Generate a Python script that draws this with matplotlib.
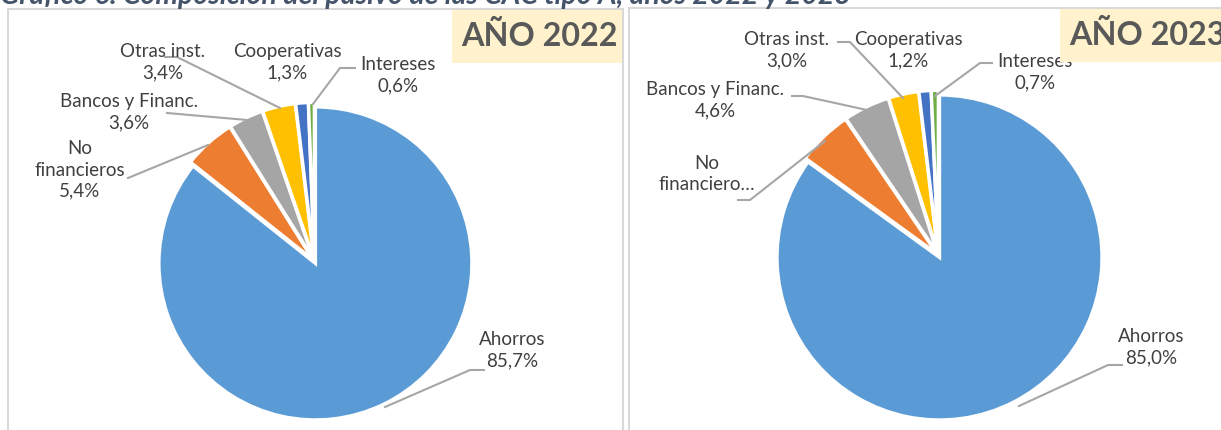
import matplotlib
matplotlib.use("Agg")
import matplotlib.pyplot as plt
from matplotlib.patches import Rectangle

plt.rcParams['font.family'] = ['Lato', 'DejaVu Sans']

# datos
categorias = ['Ahorros', 'No financieros', 'Bancos y Financ.', 'Otras inst.', 'Cooperativas', 'Intereses']
valores_2022 = [85.7, 5.4, 3.6, 3.4, 1.3, 0.6]
valores_2023 = [85.0, 5.5, 4.6, 3.0, 1.2, 0.7]
colores = ['#5B9BD5', '#ED7D31', '#A5A5A5', '#FFC000', '#4472C4', '#70AD47']
titulo = 'Gráfico 6. Composición del pasivo de las CAC tipo A, años 2022 y 2023'

W, H = 1221, 430
fig = plt.figure(figsize=(W / 100, H / 100), dpi=100)
ax = fig.add_axes([0, 0, 1, 1])


def Y(y):
    # pixeles desde arriba -> coordenadas del eje
    return H - y


def pct(v):
    return f'{v:.1f}'.replace('.', ',') + '%'


# marcos de los paneles
ax.add_patch(Rectangle((8, Y(440)), 615, 431, fill=False, ec='#D9D9D9', lw=1.5))
ax.add_patch(Rectangle((629, Y(440)), 600, 432, fill=False, ec='#D9D9D9', lw=1.5))

# tartas
paneles = [
    (valores_2022, (314.4, Y(261.3)), 156.5),
    (valores_2023, (938.4, Y(255.3)), 162.5),
]
for vals, centro, r in paneles:
    ax.pie(vals, colors=colores, startangle=90, counterclock=False,
           center=centro, radius=r, explode=[0.015 * r] * len(vals),
           wedgeprops=dict(edgecolor='white', linewidth=2.4), frame=True)

# etiquetas (centro x, centro y, texto)
etq_2022 = [
    (512, 350, f'{categorias[0]}\n{pct(valores_2022[0])}'),
    (80, 170, f'No\nfinancieros\n{pct(valores_2022[1])}'),
    (129, 112, f'{categorias[2]}\n{pct(valores_2022[2])}'),
    (163, 62, f'{categorias[3]}\n{pct(valores_2022[3])}'),
    (287, 62, f'{categorias[4]}\n{pct(valores_2022[4])}'),
    (398, 75, f'{categorias[5]}\n{pct(valores_2022[5])}'),
]
etq_2023 = [
    (1151, 347, f'{categorias[0]}\n{pct(valores_2023[0])}'),
    (707, 174, 'No\nfinanciero…'),
    (715, 100, f'{categorias[2]}\n{pct(valores_2023[2])}'),
    (787, 50, f'{categorias[3]}\n{pct(valores_2023[3])}'),
    (908, 50, f'{categorias[4]}\n{pct(valores_2023[4])}'),
    (1035, 72, f'{categorias[5]}\n{pct(valores_2023[5])}'),
]
for x, y, t in etq_2022 + etq_2023:
    ax.text(x, Y(y), t, ha='center', va='center', fontsize=13.5,
            color='#404040', linespacing=1.3, zorder=3)

# lineas guia
guias = [
    [(165, 57), (177, 57), (280, 108)],
    [(167, 113), (247, 120)],
    [(128, 178), (208, 145)],
    [(355, 68), (340, 68), (313, 104)],
    [(484, 370), (470, 370), (385, 407)],
    [(838, 42), (850, 42), (903, 98)],
    [(792, 96), (803, 96), (867, 110)],
    [(738, 200), (750, 200), (825, 141)],
    [(992, 63), (980, 63), (935, 96)],
    [(1122, 365), (1108, 365), (1019, 406)],
]
for g in guias:
    ax.plot([p[0] for p in g], [Y(p[1]) for p in g], color='#A6A6A6', lw=1.5, zorder=2)

# cajas de año
for x0, y0, w, t in [(452, 63, 170, 'AÑO 2022'), (1060, 62, 170, 'AÑO 2023')]:
    ax.add_patch(Rectangle((x0, Y(y0)), w, 53, fc='#FFF2CC', ec='none', zorder=4))
    ax.text(x0 + 9, Y(y0 - 27), t, ha='left', va='center', fontsize=23.3,
            fontweight='bold', color='#595959', zorder=5)

# titulo cortado arriba
ax.text(0, Y(4), titulo, ha='left', va='baseline', fontsize=20.5, fontweight='bold',
        fontstyle='italic', color='#44546A')

ax.set_xlim(0, W)
ax.set_ylim(0, H)
ax.set_aspect('equal')
ax.axis('off')
fig.savefig('out.png', dpi=100)
